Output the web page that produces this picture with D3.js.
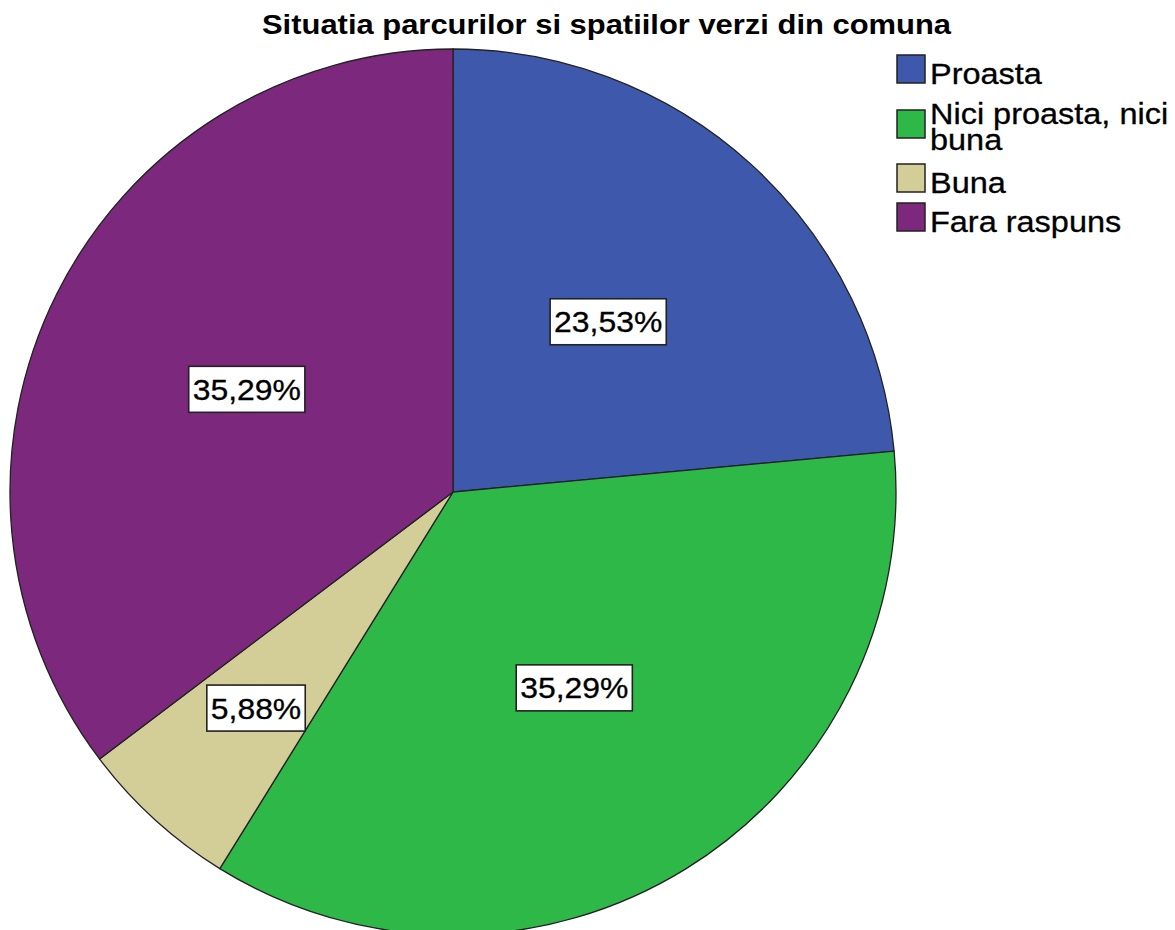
<!DOCTYPE html>
<html>
<head>
<meta charset="utf-8">
<script src="https://cdn.jsdelivr.net/npm/d3@7"></script>
<style>
  html, body { margin: 0; padding: 0; background: #fff; }
  svg { display: block; font-family: "Liberation Sans", Arial, sans-serif; }
  .slice { stroke: #222; stroke-width: 1.3; }
  .pct-box { fill: #fff; stroke: #222; stroke-width: 1.6; }
  .pct { font-size: 29px; fill: #000; stroke: #000; stroke-width: 0.3; }
  .legend-text { font-size: 29px; fill: #000; stroke: #000; stroke-width: 0.3; }
  .title { font-size: 28px; font-weight: bold; fill: #000; }
</style>
</head>
<body>
<div id="chart"></div>
<script>
const categories = ["Proasta", "Nici proasta, nici buna", "Buna", "Fara raspuns"];
const counts = [4, 6, 1, 6];
const pctLabels = ["23,53%", "35,29%", "5,88%", "35,29%"];
const colors = ["#3e58ac", "#2eb848", "#d3ce97", "#7c287d"];
const legendLines = [["Proasta"], ["Nici proasta, nici", "buna"], ["Buna"], ["Fara raspuns"]];
const title = "Situatia parcurilor si spatiilor verzi din comuna";

const width = 1175;
const height = 930;
const cx = 453;
const cy = 492;
const radius = 443;
// the original text is drawn a bit wider than the font
const pctStretch = 1.1;
const legendStretch = 1.12;

const svg = d3
  .select("#chart")
  .append("svg")
  .attr("width", width)
  .attr("height", height)
  .attr("viewBox", `0 0 ${width} ${height}`);

svg
  .append("text")
  .attr("class", "title")
  .attr("x", 262)
  .attr("y", 34)
  .attr("textLength", 689)
  .attr("lengthAdjust", "spacingAndGlyphs")
  .text(title);

const data = categories.map((name, i) => ({ name, value: counts[i], label: pctLabels[i], color: colors[i] }));

const pie = d3.pie().sort(null).value((d) => d.value);
const arcs = pie(data);
const arc = d3.arc().innerRadius(0).outerRadius(radius);

const g = svg.append("g").attr("transform", `translate(${cx},${cy})`);

g.selectAll(".slice")
  .data(arcs)
  .join("path")
  .attr("class", "slice")
  .attr("fill", (d) => d.data.color)
  .attr("d", arc);

// small slices get their label pushed further out, like the original
const total = d3.sum(counts);
const labelArc = (d) => {
  const share = d.data.value / total;
  const r = share < 0.1 ? radius * 0.66 : radius * 0.52;
  return d3.arc().innerRadius(r).outerRadius(r).centroid(d);
};

const labels = g
  .selectAll(".pct-label")
  .data(arcs)
  .join("g")
  .attr("class", "pct-label")
  .attr("transform", (d) => `translate(${labelArc(d)})`);

labels
  .append("text")
  .attr("class", "pct")
  .attr("text-anchor", "middle")
  .attr("dy", "0.36em")
  .attr("transform", `scale(${pctStretch},1)`)
  .text((d) => d.data.label);

labels.each(function () {
  const node = d3.select(this);
  const w = node.select("text").node().getComputedTextLength() * pctStretch;
  node
    .insert("rect", "text")
    .attr("class", "pct-box")
    .attr("x", -w / 2 - 4)
    .attr("y", -23)
    .attr("width", w + 8)
    .attr("height", 46);
});

// legend
const legend = svg.append("g").attr("transform", "translate(897,55)");
const rowY = [0, 55, 109, 148];

const items = legend
  .selectAll(".legend-item")
  .data(data)
  .join("g")
  .attr("class", "legend-item")
  .attr("transform", (d, i) => `translate(0,${rowY[i]})`);

items
  .append("rect")
  .attr("width", 28)
  .attr("height", 28)
  .attr("fill", (d) => d.color)
  .attr("stroke", "#222")
  .attr("stroke-width", 1.5);

items.each(function (d, i) {
  const lines = legendLines[i];
  const text = d3
    .select(this)
    .append("text")
    .attr("class", "legend-text")
    .attr("transform", `translate(33,0) scale(${legendStretch},1)`);
  const first = lines.length > 1 ? 14 : 29;
  lines.forEach((line, j) => {
    text.append("tspan").attr("x", 0).attr("y", first + j * 26).text(line);
  });
});
</script>
</body>
</html>
